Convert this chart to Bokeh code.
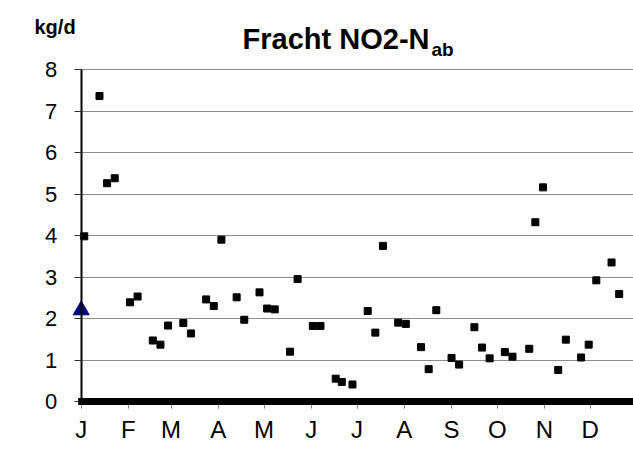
from bokeh.plotting import figure
from bokeh.models import Range1d, FixedTicker, Label
from bokeh.embed import file_html
from bokeh.resources import INLINE

# month start days and labels
month_days = [0, 31, 59, 90, 120, 151, 181, 212, 243, 273, 304, 334]
month_labels = ["J", "F", "M", "A", "M", "J", "J", "A", "S", "O", "N", "D"]
y_ticks = [0, 1, 2, 3, 4, 5, 6, 7, 8]

# measured load (kg/d) by day of year
days = [2, 12, 17, 22, 32, 37, 47, 52, 57, 67, 72, 82, 87, 92, 102, 107, 117, 122,
        127, 137, 142, 152, 157, 167, 171, 178, 188, 193, 198, 208, 213, 223, 228,
        233, 243, 248, 258, 263, 268, 278, 283, 294, 298, 303, 313, 318, 328, 333,
        338, 348, 353]
load = [3.98, 7.36, 5.26, 5.38, 2.39, 2.53, 1.47, 1.37, 1.83, 1.89, 1.64, 2.46,
        2.30, 3.90, 2.51, 1.97, 2.63, 2.24, 2.22, 1.20, 2.95, 1.82, 1.82, 0.55,
        0.47, 0.41, 2.18, 1.66, 3.75, 1.90, 1.87, 1.31, 0.78, 2.20, 1.05, 0.89,
        1.79, 1.30, 1.04, 1.19, 1.08, 1.27, 4.32, 5.16, 0.76, 1.49, 1.06, 1.37,
        2.92, 3.35, 2.59]

# reference value (triangle)
ref_day = [0]
ref_load = [2.2]

# zero series (daily values at 0)
zero_days = [-2, 365]
zero_load = [0, 0]

W, H = 633, 459
AX_X, PX_PER_DAY = 80.7, 1.524      # canvas x of day 0, pixels per day
TOP_PX, PX_PER_UNIT = 69.0, 41.5    # canvas y of value 8, pixels per kg/d
Y_MAX = 8

x_start = -AX_X / PX_PER_DAY
x_end = (W - AX_X) / PX_PER_DAY
y_end = Y_MAX + TOP_PX / PX_PER_UNIT
y_start = Y_MAX - (H - TOP_PX) / PX_PER_UNIT


def cx(px):
    return (px - AX_X) / PX_PER_DAY


def cy(py):
    return Y_MAX + (TOP_PX - py) / PX_PER_UNIT


p = figure(width=W, height=H, output_backend="svg", toolbar_location=None,
           x_range=Range1d(x_start, x_end), y_range=Range1d(y_start, y_end),
           frame_width=W, frame_height=H,
           min_border_left=0, min_border_right=0, min_border_top=0,
           min_border_bottom=0)
p.outline_line_color = None
p.background_fill_color = "white"
p.border_fill_color = "white"
p.title.visible = False

FONT = "Liberation Sans"

# grid
p.xgrid.visible = False
p.ygrid.ticker = FixedTicker(ticks=y_ticks)
p.ygrid.grid_line_color = "#8c8c8c"
p.ygrid.grid_line_width = 1
p.ygrid.cross_bounds = (0, x_end)

# zero series as thick bar
p.segment(x0=zero_days[:1], y0=zero_load[:1], x1=zero_days[1:], y1=zero_load[1:],
          line_color="black", line_width=7, level="overlay")

# points
p.scatter(days, load, marker="square", size=7, fill_color="black", line_color="black")
p.scatter(ref_day, ref_load, marker="triangle", size=16, fill_color="#000080",
          line_color="#000080")

# axes
xa = p.xaxis[0]
xa.fixed_location = 0
xa.bounds = (0, x_end)
xa.ticker = FixedTicker(ticks=month_days)
xa.major_label_overrides = {d: l for d, l in zip(month_days, month_labels)}
xa.axis_line_color = None
xa.major_tick_line_color = "#808080"
xa.major_tick_out = 7
xa.major_tick_in = 0
xa.minor_tick_line_color = None
xa.major_label_standoff = 7
xa.major_label_text_font = FONT
xa.major_label_text_font_size = "24px"
xa.major_label_text_color = "black"

ya = p.yaxis[0]
ya.fixed_location = 0
ya.bounds = (0, Y_MAX)
ya.ticker = FixedTicker(ticks=y_ticks)
ya.axis_line_color = "black"
ya.axis_line_width = 2
ya.major_tick_line_color = "#303030"
ya.major_tick_out = 7
ya.major_tick_in = 0
ya.minor_tick_line_color = None
ya.major_label_standoff = 17
ya.major_label_text_font = FONT
ya.major_label_text_font_size = "22px"
ya.major_label_text_color = "black"

# title with subscript and unit label
p.add_layout(Label(x=cx(429), y=cy(38), text="Fracht NO2-N", text_align="right",
                   text_baseline="alphabetic", text_font=FONT,
                   text_font_size="29px", text_font_style="bold",
                   text_color="black"))
p.add_layout(Label(x=cx(431), y=cy(49), text="ab", text_align="left",
                   text_baseline="alphabetic", text_font=FONT,
                   text_font_size="19px", text_font_style="bold",
                   text_color="black"))
p.add_layout(Label(x=cx(34), y=cy(26), text="kg/d", text_align="left",
                   text_baseline="alphabetic", text_font=FONT,
                   text_font_size="20px", text_font_style="bold",
                   text_color="black"))

open("out.html", "w").write(file_html(p, INLINE))
